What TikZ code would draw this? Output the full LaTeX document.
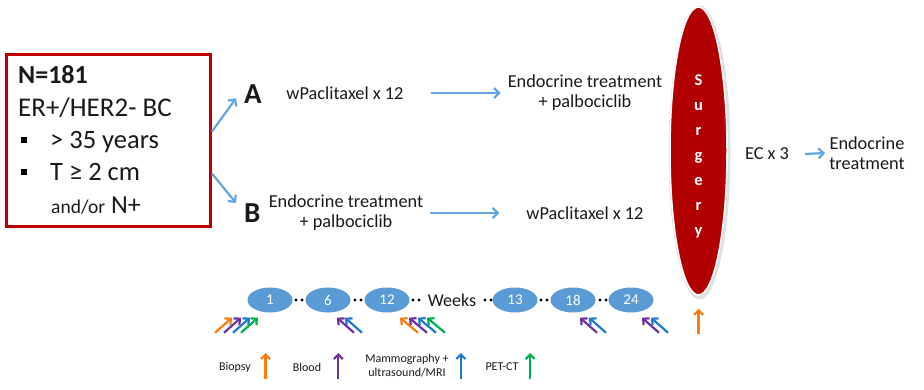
\documentclass[tikz,border=0pt]{standalone}
\usepackage{fontspec}
\setmainfont{Carlito}
\usetikzlibrary{arrows.meta,shapes.geometric,calc}
\definecolor{boxred}{RGB}{192,0,0}
\definecolor{surg}{RGB}{178,0,0}
\definecolor{lblue}{RGB}{100,165,225}
\definecolor{wkblue}{RGB}{91,155,213}
\definecolor{aorange}{RGB}{250,125,20}
\definecolor{apurple}{RGB}{112,48,160}
\definecolor{ablue}{RGB}{30,120,210}
\definecolor{agreen}{RGB}{0,176,80}
\definecolor{txt}{RGB}{25,25,25}
\begin{document}
\begin{tikzpicture}[x=1pt,y=-1pt,
  every node/.style={text=txt,inner sep=0pt},
  main/.style={font=\fontsize{18.3}{20}\selectfont, align=center},
  flow/.style={draw=lblue,line width=2.2pt,-{Straight Barb[length=5pt,width=10pt]}},
  amark/.style={line width=2.2pt,-{Straight Barb[length=4.5pt,width=9pt]}},
  wk/.style={ellipse,fill=wkblue,minimum width=45pt,minimum height=25pt,text=white,font=\fontsize{15}{15}\selectfont},
  legend/.style={font=\fontsize{12}{14}\selectfont, align=center},
  bul/.style={fill=black,minimum size=6.5pt}]
\useasboundingbox (0,0) rectangle (924,389);
% input box
\node[draw=boxred, line width=3pt, minimum width=204pt, minimum height=172pt, anchor=north west] (box) at (5,53) {};
\node[anchor=base west, font=\fontsize{26}{28}\selectfont\bfseries] (n) at (18,83) {N=181};
\node[anchor=base west, font=\fontsize{27}{28}\selectfont] (er) at (18,116) {ER+/HER2- BC};
\node[bul] (b1) at (24,140) {};
\node[anchor=base west, font=\fontsize{26.5}{28}\selectfont] (age) at (50,148) {> 35 years};
\node[bul] (b2) at (24,172) {};
\node[anchor=base west, font=\fontsize{26.5}{28}\selectfont] (t) at (50,180) {T ≥ 2 cm};
\node[anchor=base west, font=\fontsize{26}{28}\selectfont] (np) at (51,213) {{\fontsize{19.5}{20}\selectfont and/or} N+};
% arms
\node[anchor=base west, font=\fontsize{29}{30}\selectfont\bfseries] (A) at (244,103) {A};
\node[anchor=base west, font=\fontsize{29}{30}\selectfont\bfseries] (B) at (244,222) {B};
\draw[flow] ([yshift=9pt]box.east) -- ([shift={(-8pt,5pt)}]A.south west);
\draw[flow] ([yshift=-33pt]box.east) -- ([xshift=-8pt]B.north west);
\node[main] (pA) at (345,93) {wPaclitaxel x 12};
\node[main] (eA) at (585,93) {Endocrine treatment\\+ palbociclib};
\draw[flow] ([xshift=27pt]pA.east) -- ([xshift=-7pt]eA.west);
\node[main] (eB) at (346,213) {Endocrine treatment\\+ palbociclib};
\node[main] (pB) at (585,213) {wPaclitaxel x 12};
\draw[flow] ([xshift=7pt]eB.east) -- ([xshift=-27pt]pB.west);
% surgery
\fill[black!12] (699.5,152.5) ellipse (31 and 147);
\node[ellipse, fill=surg, draw=white, line width=1.5pt, minimum width=57pt, minimum height=288pt] (surg) at (698.5,151) {};
\node[text=white, font=\fontsize{16.5}{25}\selectfont\bfseries, align=center] (surgtext) at (698.5,156) {S\\u\\r\\g\\e\\r\\y};
\node[main] (ec) at (767,154) {EC x 3};
\node[main] (et) at (867,153) {Endocrine\\treatment};
\draw[flow] ([xshift=16pt]ec.east) -- ([xshift=-4pt]et.west);
% timeline
\node[wk] (w1) at (270,300) {1};
\node[wk] (w6) at (328,300) {6};
\node[wk] (w12) at (387,300) {12};
\node[font=\fontsize{18}{20}\selectfont] (weeks) at (452,300) {Weeks};
\node[wk] (w13) at (515,300) {13};
\node[wk] (w18) at (573,300) {18};
\node[wk] (w24) at (631,300) {24};
\foreach \x in {296,302,355,361,413,419,485,491,541,547,600,606} \fill (\x,300) circle (1.6);
% assessment arrows
\foreach \dx/\c in {-38/aorange,-29/apurple,-20/ablue,-12/agreen}
  \draw[amark,\c] ($(w1.south)+(\dx-17,20)$) -- ($(w1.south)+(\dx,5)$);
\foreach \dx/\c in {9/apurple,17/ablue}
  \draw[amark,\c] ($(w6.south)+(\dx+17,20)$) -- ($(w6.south)+(\dx,5)$);
\foreach \dx/\c in {13/aorange,22/apurple,31/ablue,40/agreen}
  \draw[amark,\c] ($(w12.south)+(\dx+18,20)$) -- ($(w12.south)+(\dx,5)$);
\foreach \dx/\c in {7/apurple,16/ablue}
  \draw[amark,\c] ($(w18.south)+(\dx+17,20)$) -- ($(w18.south)+(\dx,5)$);
\foreach \dx/\c in {11/apurple,20/ablue}
  \draw[amark,\c] ($(w24.south)+(\dx+17,20)$) -- ($(w24.south)+(\dx,5)$);
\draw[amark,aorange] ($(surg.south)+(0,38)$) -- ($(surg.south)+(0,13)$);
% legend
\node[legend] (lb) at (235,367) {Biopsy};
\draw[amark,aorange] ($(lb.east)+(14.5,12)$) -- ++(0,-26);
\node[legend] (ld) at (307,367) {Blood};
\draw[amark,apurple] ($(ld.east)+(17,12)$) -- ++(0,-26);
\node[legend] (lm) at (407,366) {Mammography +\\ultrasound/MRI};
\draw[amark,ablue] ($(lm.east)+(12,13)$) -- ++(0,-26);
\node[legend] (lp) at (502,367) {PET-CT};
\draw[amark,agreen] ($(lp.east)+(11.5,12)$) -- ++(0,-26);
\end{tikzpicture}
\end{document}
